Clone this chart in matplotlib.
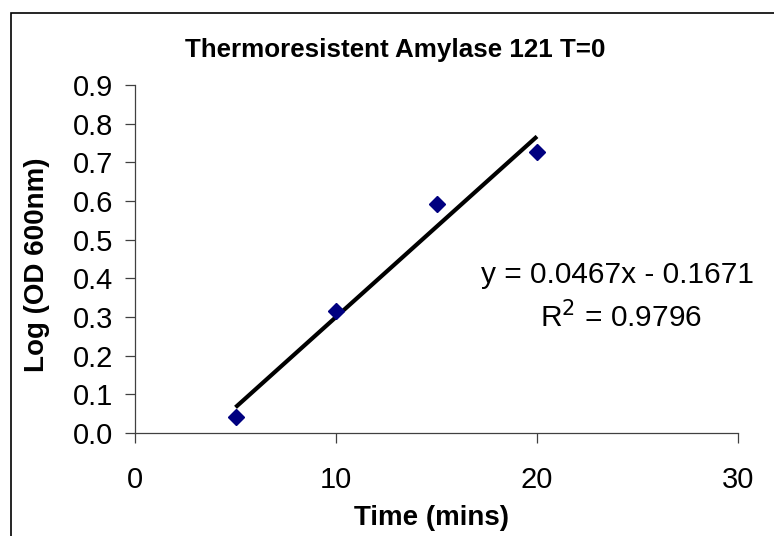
import matplotlib

matplotlib.use("Agg")
import matplotlib.pyplot as plt
from matplotlib.patches import Rectangle

plt.rcParams["font.family"] = ["Liberation Sans", "DejaVu Sans"]

# data
time_mins = [5, 10, 15, 20]
log_od = [0.041, 0.315, 0.592, 0.727]
slope = 0.0467
intercept = -0.1671
r_squared = 0.9796
x_ticks = [0, 10, 20, 30]
y_ticks = [0.0, 0.1, 0.2, 0.3, 0.4, 0.5, 0.6, 0.7, 0.8, 0.9]

W, H = 774, 536
fig = plt.figure(figsize=(W / 100, H / 100), dpi=100)

# outer chart border (only left/top visible, the rest is cropped)
fig.patches.append(
    Rectangle((11 / W, -0.1), 1.2, 1.1 - 13 / H, transform=fig.transFigure,
              fill=False, edgecolor="black", linewidth=1.2)
)

ax = fig.add_axes([135 / W, 1 - 433 / H, (738 - 135) / W, (433 - 85) / H])

# linear trendline
fit_x = [time_mins[0], time_mins[-1]]
fit_y = [slope * x + intercept for x in fit_x]
ax.plot(fit_x, fit_y, color="black", linewidth=3, solid_capstyle="butt", zorder=2)
ax.plot(time_mins, log_od, linestyle="none", marker="D", markersize=8.5,
        color="#000080", zorder=3)

ax.set_xlim(0, 30)
ax.set_ylim(0, 0.9)
ax.set_xticks(x_ticks)
ax.set_yticks(y_ticks)
ax.set_yticklabels([f"{v:.1f}" for v in y_ticks])
ax.spines["top"].set_visible(False)
ax.spines["right"].set_visible(False)
for s in ("left", "bottom"):
    ax.spines[s].set_color("#404040")
    ax.spines[s].set_linewidth(0.9)
ax.tick_params(axis="both", direction="out", length=7.5, width=0.9,
               color="#404040", labelsize=21)
ax.tick_params(axis="x", pad=16)
ax.tick_params(axis="y", pad=8.5)

fig.text(432 / W, 1 - 525 / H, "Time (mins)", ha="center", va="baseline",
         fontsize=20, fontweight="bold")
fig.text(37 / W, 1 - 265 / H, "Log (OD 600nm)", ha="center", va="center",
         rotation=90, fontsize=20, fontweight="bold")
fig.text(395 / W, 1 - 57 / H, "Thermoresistent Amylase 121 T=0",
         ha="center", va="baseline", fontsize=18.75, fontweight="bold")

ax.text(24.0, 0.388, f"y = {slope}x - {abs(intercept)}", ha="center",
        va="baseline", fontsize=21.5)
ax.text(24.2, 0.274, f"R$^2$ = {r_squared}", ha="center", va="baseline",
        fontsize=21.5)

fig.savefig("out.png", dpi=100)
